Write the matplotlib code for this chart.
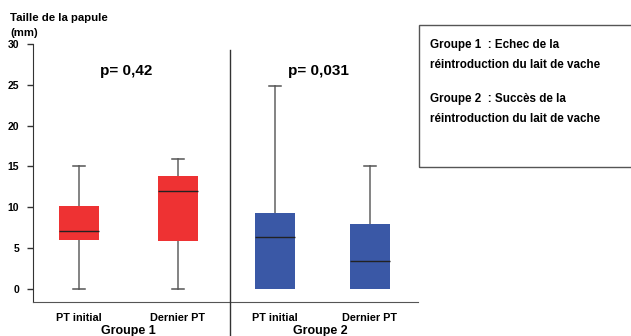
import matplotlib
matplotlib.use("Agg")
import matplotlib.pyplot as plt
from matplotlib.patches import Rectangle
from matplotlib.lines import Line2D

plt.rcParams['font.family'] = ['Liberation Sans', 'DejaVu Sans']
plt.rcParams['font.weight'] = 'bold'

# valeurs (mm)
labels = ["PT initial", "Dernier PT", "PT initial", "Dernier PT"]
groups = ["Groupe 1", "Groupe 2"]
whis_low = [0, 0, 0, 0]
q1 = [6.0, 5.9, 0.0, 0.0]
medians = [7.1, 12.0, 6.4, 3.4]
q3 = [10.1, 13.8, 9.3, 8.0]
whis_high = [15.0, 15.9, 24.9, 15.1]
pvalues = ["p= 0,42", "p= 0,031"]
colors = ["#ee3233", "#ee3233", "#3a58a6", "#3a58a6"]

W, H = 631, 336
fig = plt.figure(figsize=(W / 100, H / 100), dpi=100)
# axes en pixels
x0, x1, ytop, ybot = 33, 418, 44, 302
ax = fig.add_axes([x0 / W, 1 - ybot / H, (x1 - x0) / W, (ybot - ytop) / H])

stats = []
for i in range(4):
    stats.append({"whislo": whis_low[i], "q1": q1[i], "med": medians[i],
                  "q3": q3[i], "whishi": whis_high[i], "fliers": []})
pos = [1, 2.02, 3.02, 4.0]
bp = ax.bxp(stats, positions=pos, widths=0.41, patch_artist=True,
            showfliers=False, capwidths=0.125,
            whiskerprops=dict(color="#7a7a7a", lw=1.3),
            capprops=dict(color="#555555", lw=1.1),
            medianprops=dict(color="#222222", lw=1.0),
            boxprops=dict(lw=0))
for patch, c in zip(bp["boxes"], colors):
    patch.set_facecolor(c)
    patch.set_edgecolor(c)
    patch.set_zorder(3)
for m in bp["medians"]:
    m.set_zorder(4)
# pas de moustache basse quand la boîte part de 0
for i in range(4):
    if whis_low[i] == q1[i]:
        bp["caps"][2 * i].set_visible(False)

ax.set_xlim(0.526, 4.495)
ax.set_ylim(-1.6, 30)
ax.set_yticks(range(0, 31, 5))
ax.tick_params(axis="y", length=4, width=1, color="#333333", labelsize=7.5, pad=6)
ax.tick_params(axis="x", length=0, labelsize=7.8, pad=8)
ax.set_xticks(pos)
ax.set_xticklabels(labels)
for s in ["top", "right"]:
    ax.spines[s].set_visible(False)
ax.spines["left"].set_color("#333333")
ax.spines["bottom"].set_color("#555555")
ax.spines["left"].set_bounds(-1.6, 30)

# noms des groupes
fig.text(128 / W, 1 - 331 / H, groups[0], ha="center", va="center", fontsize=9, fontweight="bold")
fig.text(320 / W, 1 - 331 / H, groups[1], ha="center", va="center", fontsize=9, fontweight="bold")

# valeurs p
fig.text(126 / W, 1 - 71 / H, pvalues[0], ha="center", va="center", fontsize=11, fontweight="bold")
fig.text(318 / W, 1 - 71 / H, pvalues[1], ha="center", va="center", fontsize=11, fontweight="bold")

# séparateur
fig.add_artist(Line2D([230 / W, 230 / W], [0, 1 - 50 / H], color="#333333", lw=1))

# titre de l'axe
fig.text(10 / W, 1 - 18 / H, "Taille de la papule", ha="left", va="center",
         fontsize=8.2, fontweight="bold")
fig.text(10 / W, 1 - 33 / H, "(mm)", ha="left", va="center",
         fontsize=8.2, fontweight="bold")

# encadré légende
fig.add_artist(Rectangle((419 / W, 1 - 167 / H), 0.4, (167 - 25) / H,
                         transform=fig.transFigure, fill=False,
                         edgecolor="#555555", lw=1))
legend_lines = ["Groupe 1  : Echec de la", "réintroduction du lait de vache",
                "Groupe 2  : Succès de la", "réintroduction du lait de vache"]
for txt, y in zip(legend_lines, [45, 65, 99, 119]):
    fig.text(430 / W, 1 - y / H, txt, ha="left", va="center", fontsize=8.4, fontweight="bold")

fig.savefig("out.png", dpi=100)
